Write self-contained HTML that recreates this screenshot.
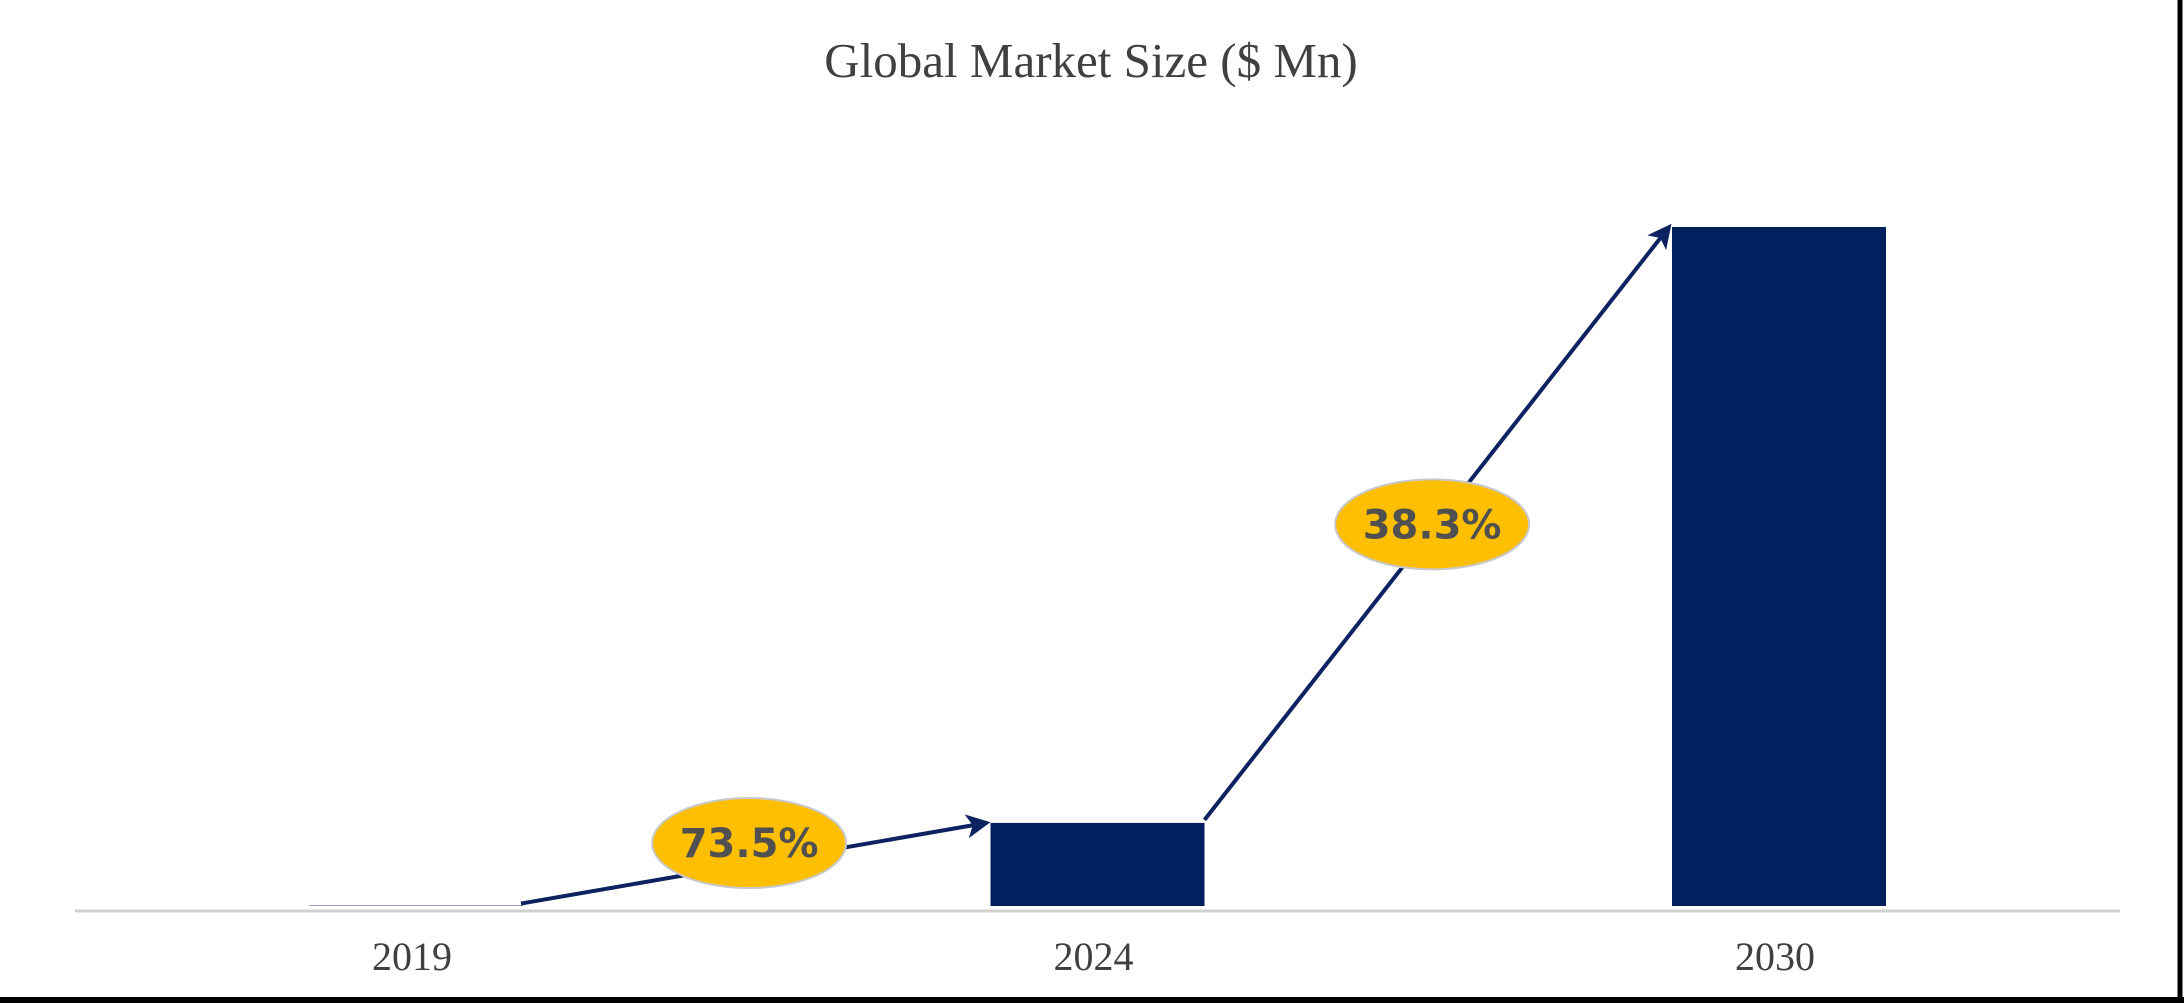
<!DOCTYPE html>
<html><head><meta charset="utf-8"><style>
html,body{margin:0;padding:0;background:#fff}
#wrap{position:relative;width:2184px;height:1003px;overflow:hidden}
</style></head><body>
<div id="wrap">
<svg id="chart" width="2184" height="1003" xmlns="http://www.w3.org/2000/svg">
<defs><marker id="ah" markerWidth="6" markerHeight="6" refX="5" refY="3" orient="auto" markerUnits="strokeWidth"><path d="M0,0 L6,3 L0,6 L1.5,3 z" fill="#0d2260"/></marker></defs>
<rect x="0" y="0" width="2184" height="1003" fill="#fff"/>
<line x1="2180" y1="0" x2="2180" y2="1003" stroke="#000" stroke-width="5"/>
<line x1="0" y1="1000" x2="2184" y2="1000" stroke="#000" stroke-width="6"/>
<text x="1091" y="77" text-anchor="middle" font-family="Liberation Serif, serif" font-size="49" fill="#404040">Global Market Size ($ Mn)</text>
<line x1="75" y1="911" x2="2120" y2="911" stroke="#d0d0d0" stroke-width="3"/>
<g id="bars"></g><g id="arrows"></g><g id="labels"></g>
</svg>
</div>
<script>
const categories = ["2019","2024","2030"];
const values = [0.5, 100, 817];
const growthLabels = ["73.5%","38.3%"];

const baseY = 906, plotTop = 227, maxV = 817;
function xCenter(i){ return 416 + i*681.5; }
function yScale(v){ return baseY - (v/maxV)*(baseY-plotTop); }
const barW = 214;
const NS = "http://www.w3.org/2000/svg";
const gb = document.getElementById('bars'), ga = document.getElementById('arrows'), gl = document.getElementById('labels');
function mk(t,a){ const e=document.createElementNS(NS,t); for(const k in a) e.setAttribute(k,a[k]); return e; }

categories.forEach((c,i)=>{
  const y = yScale(values[i]);
  const r = mk('rect',{x:xCenter(i)-barW/2,y:y,width:barW,height:baseY-y,fill:'#03205e'});
  
  
  gb.appendChild(r);
  const t = mk('text',{x:xCenter(i)-4,y:970,'text-anchor':'middle','font-family':'Liberation Serif, serif','font-size':'40',fill:'#404040'});
  t.textContent = c;
  
  
  gl.appendChild(t);
});

for(let i=0;i<growthLabels.length;i++){
  let x1,y1,x2,y2;
  if(i===0){ x1=xCenter(0)+105; y1=yScale(values[0])-2; x2=xCenter(1)-barW/2-4; y2=yScale(values[1]); }
  else { x1=xCenter(i)+barW/2; y1=yScale(values[i])-3; x2=xCenter(i+1)-barW/2-3; y2=yScale(values[i+1]); }
  const l = mk('line',{x1:x1,y1:y1,x2:x2,y2:y2,stroke:'#0d2260','stroke-width':4,'marker-end':'url(#ah)'});
  
  
  ga.appendChild(l);
  const cx = x1+(x2-x1)*0.49;
  const cy = i===0 ? y1+(y2-y1)*0.49-21 : y1+(y2-y1)*0.49-5;
  const e = mk('ellipse',{cx:cx,cy:cy,rx:97,ry:45,fill:'#fdbf00',stroke:'#c8c8c8','stroke-width':2});
  
  
  ga.appendChild(e);
  const t = mk('text',{x:cx,y:cy+14,'text-anchor':'middle','font-family':'DejaVu Sans, sans-serif','font-weight':'bold','font-size':'40',fill:'#505050'});
  t.textContent = growthLabels[i];
  
  
  ga.appendChild(t);
}
</script>
</body></html>
